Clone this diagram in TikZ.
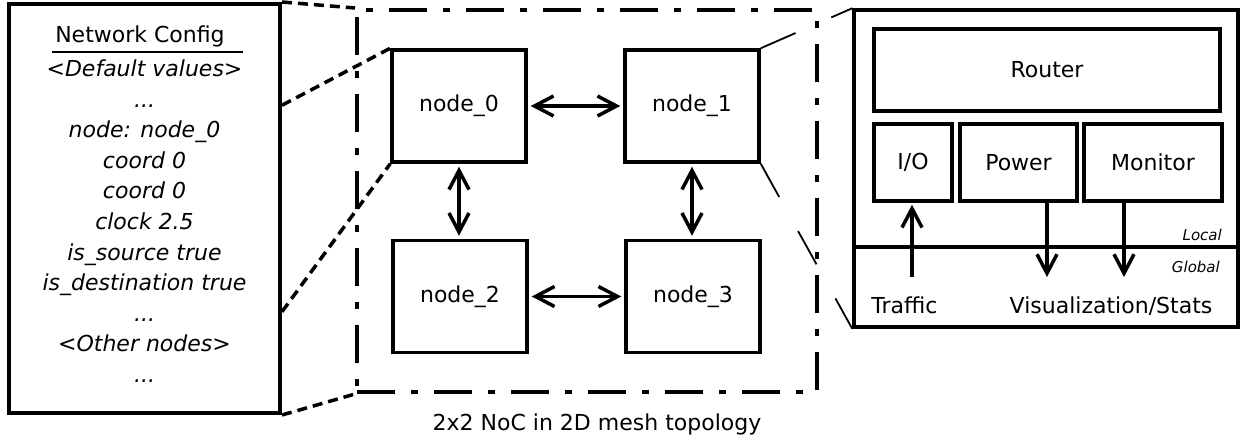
\documentclass[tikz,border=0pt]{standalone}
\usepackage{fontspec}
\setmainfont{DejaVu Sans}
\usetikzlibrary{calc}
\usetikzlibrary{positioning,arrows.meta}
\newcommand{\Thick}{3.5pt}
\tikzset{Block/.style={
    inner sep=0pt,
    minimum width=134pt,
    minimum height=112pt,
    draw=black,
    line width=\Thick,
    align=center,
    }
}

\begin{document}
\begin{tikzpicture}[x=1pt, y=-1pt,
    font=\fontsize{22}{26}\selectfont,
    >={Straight Barb[length=19pt,width=20pt,line width=3.5pt]},
    link/.style={<->, line width=3.5pt, shorten <=3pt, shorten >=3pt},
    flow/.style={->, line width=3.5pt},
    part/.style={draw=black, line width=\Thick, inner sep=0pt, minimum height=77pt},
    zoomin/.style={line width=3.5pt, dash pattern=on 10pt off 6pt},
    zoomout/.style={line width=1.8pt, dash pattern=on 38pt off 39pt},
    tag/.style={font=\fontsize{15}{18}\selectfont\itshape, inner sep=0pt},
]
\useasboundingbox (0,0) rectangle (1242,441);

% configuration listing
\node [draw=black, line width=4pt, inner sep=0pt, minimum width=271pt, minimum height=409pt] (cfg) at (144.5,208.5) {};
\node [inner sep=0pt, anchor=base] (cfgtitle) at (140,43) {Network Config};
\draw [line width=1.5pt] (52,52) -- (243,52);
\node [inner sep=0pt, anchor=north, align=center, font=\fontsize{22}{30.6}\selectfont\itshape] (cfglist) at (144.5,59.5)
    {<Default values>\\...\\node: node\_0\\coord 0\\coord 0\\clock 2.5\\is\_source true\\is\_destination true\\...\\<Other nodes>\\...};

% 2x2 mesh
\node [draw=black, line width=4pt, dash pattern=on 38pt off 16pt on 7pt off 16pt,
    inner sep=0pt, minimum width=460pt, minimum height=382pt] (mesh) at (587,201) {};
\node [anchor=base, inner sep=0pt] (caption) at (597,430) {2x2 NoC in 2D mesh topology};

\node [Block] (node0) at (459,106) {node\_0};
\node [Block] (node1) at (692,106) {node\_1};
\node [Block] (node2) at (460,296.5) {node\_2};
\node [Block] (node3) at (693,296.5) {node\_3};

\draw [link] (node0) -- (node1);
\draw [link] (node2) -- (node3);
\draw [link] (node0.south) -- (node0.south |- node2.north);
\draw [link] (node1.south) -- (node1.south |- node3.north);

% inside of one node
\node [draw=black, line width=\Thick, inner sep=0pt, minimum width=384pt, minimum height=317pt] (unit) at (1046,168.5) {};
\node [part, minimum width=346pt, minimum height=82pt] (router) at (1047,70) {Router};
\node [part, minimum width=78pt] (io) at (913,162.5) {I/O};
\node [part, minimum width=117pt] (power) at (1018.5,162.5) {Power};
\node [part, minimum width=138pt] (monitor) at (1153,162.5) {Monitor};

\coordinate (split) at (1046,247);
\draw [line width=\Thick] (split -| unit.west) -- (split -| unit.east);
\node [tag, anchor=base east] (local) at (1222,240) {Local};
\node [tag, anchor=base east] (global) at (1220,272) {Global};

\node [anchor=base, inner sep=0pt] (traffic) at (904.5,313) {Traffic};
\node [anchor=base, inner sep=0pt] (stats) at (1111,313) {Visualization/Stats};
\coordinate (trafficin) at (912,277);
\coordinate (powerout) at (1047,277);
\coordinate (monitorout) at (1124,277);
\draw [flow, shorten >=2pt] (trafficin) -- (trafficin |- io.south);
\draw [flow] (power.south -| powerout) -- (powerout);
\draw [flow] (monitor.south -| monitorout) -- (monitorout);

% zoom lines
\draw [zoomin] (cfg.north east) -- (mesh.north west);
\draw [zoomin] ($(cfg.north east)!0.25!(cfg.south east)$) -- (node0.north west);
\draw [zoomin] ($(cfg.north east)!0.75!(cfg.south east)$) -- (node0.south west);
\draw [zoomin] (cfg.south east) -- (mesh.south west);
\draw [zoomout] (node1.north east) -- (unit.north west);
\draw [zoomout] (node1.south east) -- (unit.south west);
\end{tikzpicture}
\end{document}
